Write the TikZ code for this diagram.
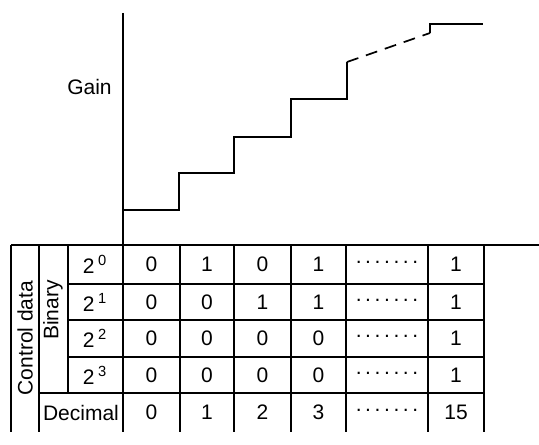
\documentclass[tikz,border=0pt]{standalone}
\usepackage{fontspec}
\setmainfont{Liberation Sans}
\usepackage{tikz}
\usetikzlibrary{positioning}

\tikzset{
  grid line/.style={line width=0.75pt},
  cell/.style={font=\fontsize{10.5}{12}\selectfont, inner sep=0pt},
  side label/.style={cell, rotate=90}
}
\newcommand{\dotrun}{.\hspace{1.8pt}.\hspace{1.8pt}.\hspace{1.8pt}.\hspace{1.8pt}.\hspace{1.8pt}.\hspace{1.8pt}.}
\newcommand{\pw}[1]{2\,\textsuperscript{#1}}

\begin{document}
\begin{tikzpicture}[x=0.5pt, y=-0.5pt]
\useasboundingbox (0,0) rectangle (539,444);

% Gain curve
\draw[line width=1pt] (123,13) -- (123,245);
\node[cell] (gain) at (89.5,86.5) {Gain};
\draw[line width=0.85pt] (123,210) -- (179,210) -- (179,173) -- (234,173) -- (234,137)
  -- (291,137) -- (291,99) -- (347,99) -- (347,62);
\draw[line width=0.85pt, dash pattern=on 6pt off 4pt] (347,62) -- (430,33);
\draw[line width=0.85pt] (430,33) -- (430,24) -- (483,24);

% Table frame
\draw[grid line] (11,245) -- (539,245);
\draw[grid line] (11,245) -- (11,432);
\draw[grid line] (39,245) -- (39,432);
\draw[grid line] (68,245) -- (68,393);
\foreach \x in {123,180,234,291,346,428,484}
  \draw[grid line] (\x,245) -- (\x,432);
\foreach \y in {284,320,357}
  \draw[grid line] (68,\y) -- (484,\y);
\draw[grid line] (39,393) -- (484,393);

% Row heads
\node[side label] (control) at (25,338) {Control data};
\node[side label] (binary) at (53,310) {Binary};
\node[cell] (p0) at (95,264.5) {\pw{0}};
\node[cell] (p1) at (95,302) {\pw{1}};
\node[cell] (p2) at (95,338.5) {\pw{2}};
\node[cell] (p3) at (95,375) {\pw{3}};
\node[cell] (dec) at (81,412.5) {Decimal};

% Cells
\foreach \y/\a/\b/\c/\d/\e [count=\r] in {264.5/0/1/0/1/1, 302/0/0/1/1/1,
    338.5/0/0/0/0/1, 375/0/0/0/0/1, 412.5/0/1/2/3/15} {
  \node[cell] (c\r a) at (151.5,\y) {\a};
  \node[cell] (c\r b) at (207,\y) {\b};
  \node[cell] (c\r c) at (262.5,\y) {\c};
  \node[cell] (c\r d) at (318.5,\y) {\d};
  \node[cell] (c\r x) at (387,\y-2) {\dotrun};
  \node[cell] (c\r e) at (456,\y) {\e};
}
\end{tikzpicture}
\end{document}
